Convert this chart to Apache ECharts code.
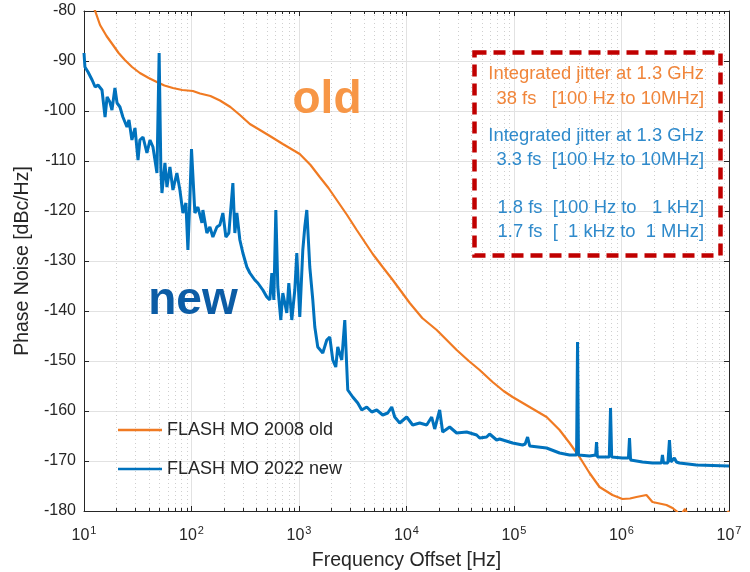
<!DOCTYPE html>
<html>
<head>
<meta charset="utf-8">
<script src="https://cdn.jsdelivr.net/npm/echarts@6/dist/echarts.min.js"></script>
<style>
html,body{margin:0;padding:0;background:#fff;}
#c{width:750px;height:572px;}
</style>
</head>
<body>
<div id="c"></div>
<script>
// ---------- data ----------
const seriesNames = ['FLASH MO 2008 old', 'FLASH MO 2022 new'];

const freqOld = [11.5, 12.7, 14.1, 16.2, 18.6, 21.0, 24.0, 28.0, 33.1, 40.0, 47.6, 56.0, 67.1, 82.0, 103, 120, 150, 184, 230, 282, 349, 433, 536, 707, 1016, 1280, 1560, 1880, 2244, 2800, 3443, 4853, 6000, 7447, 10715, 14000, 19098, 29300, 38000, 47900, 63200, 80000, 97000, 139600, 200900, 265500, 328800, 407000, 504000, 625000, 824000, 1020000, 1200000, 1377000, 1706000, 1940000, 2620000, 2980000, 3240000, 3500000, 3900000, 4200000, 5000000, 8000000, 10000000];
const dbOld = [-78, -80, -82.8, -85.0, -86.8, -88.4, -89.8, -91.2, -92.4, -93.4, -94.2, -94.9, -95.4, -95.8, -96.0, -96.5, -97.0, -97.9, -99.2, -100.8, -102.6, -103.8, -105.0, -106.6, -108.6, -110.8, -113.2, -115.4, -117.8, -120.8, -123.8, -128.6, -131.2, -133.8, -138.4, -141.4, -143.8, -147.8, -150.0, -151.8, -154.2, -156.0, -157.2, -159.2, -161.2, -163.8, -166.4, -169.2, -172.4, -175.2, -176.8, -177.6, -177.5, -177.2, -176.8, -178.2, -178.8, -179.4, -180, -181, -179.6, -181, -182, -182, -180];

const freqNew = [10, 10.2, 10.9, 11.9, 12.7, 13.5, 14.7, 15.7, 16.4, 17.4, 18.2, 19.4, 20.3, 21.6, 23.0, 25.1, 26.2, 27.9, 29.8, 31.8, 33.1, 35.4, 38.5, 41.1, 43.8, 47.7, 50, 51.9, 53.1, 56.6, 59.1, 63.0, 67.2, 73.1, 78.0, 83.2, 88.7, 92.6, 96, 100, 107.5, 114.7, 125, 127.6, 139, 148.3, 158.1, 172.2, 183.6, 195.8, 208.8, 222.6, 242.6, 253.1, 264.2, 281.8, 300.5, 327.3, 349, 388.4, 414.1, 461, 502, 535.4, 558.8, 583.3, 608.8, 635.4, 677.5, 707, 770, 804, 857, 914, 954, 1017, 1085, 1132, 1182, 1260, 1344, 1403, 1495, 1664, 1813, 1933, 2062, 2198, 2294, 2499, 2666, 2781, 2842, 3162, 3520, 3833, 4267, 4750, 5284, 6009, 6690, 7289, 7770, 8646, 10040, 11420, 13270, 15410, 17150, 18290, 20350, 21700, 25200, 29270, 36270, 44920, 47900, 55650, 59330, 68930, 73480, 97050, 120200, 127000, 133800, 140000, 145700, 200900, 265400, 328700, 381900, 390000, 398000, 407100, 504200, 575000, 585800, 597000, 611300, 770000, 790600, 810000, 1022000, 1160000, 1187000, 1215000, 1567000, 1941000, 2350000, 2404000, 2460000, 2700000, 2793000, 2880000, 2979000, 3100000, 3245000, 3459000, 4977000, 10000000];
const dbNew = [-88.4, -91.2, -92.2, -93.8, -95.2, -94.8, -95.8, -101.2, -97.2, -98.2, -99.8, -95.4, -98.4, -99.2, -101.2, -103.2, -101.8, -105.8, -103.4, -109.8, -105.8, -105.2, -108.4, -105.8, -107.2, -112.4, -88.4, -111.8, -116.4, -110.4, -115.2, -111.2, -115.8, -112.4, -115.8, -120.4, -118.4, -127.8, -119, -107.6, -120.4, -119.2, -122.4, -119.8, -124.4, -123.2, -125.2, -123.2, -122.8, -120.4, -125.2, -124.4, -114.4, -124.4, -120.4, -125.8, -128.4, -131.2, -132.4, -133.8, -134.4, -135.8, -137.2, -137.8, -132.4, -137.8, -119.8, -135.2, -141.8, -136.4, -140.4, -134.4, -141.8, -135.8, -128.4, -141.2, -127.8, -123.2, -119.8, -131.2, -137.8, -143.2, -147.2, -148.4, -145.8, -145.2, -149.8, -151.2, -147.2, -149.8, -141.8, -151.2, -155.8, -157.2, -158.4, -159.8, -159.2, -160.2, -159.8, -160.8, -160.4, -159.2, -161.2, -162.4, -161.2, -162.8, -162.4, -162.8, -161.2, -163.6, -159.8, -164.2, -163.2, -164.4, -164.2, -164.8, -165.4, -165.2, -164.6, -165.8, -165.6, -166.4, -166.8, -166.6, -165.2, -167.0, -167.2, -167.4, -168.4, -168.8, -168.8, -146.2, -168.8, -168.8, -169, -168.8, -166.2, -169.2, -169.2, -169.2, -159.4, -169.2, -169.4, -169.4, -165.4, -169.8, -170.2, -170.4, -170.4, -168.8, -170.4, -170.4, -165.8, -170.2, -170, -169.4, -170.2, -170.4, -170.8, -171];

const boxLines = [
  {text: 'Integrated jitter at 1.3 GHz', color: '#F0853A'},
  {text: '38 fs   [100 Hz to 10MHz]', color: '#F0853A'},
  {text: 'Integrated jitter at 1.3 GHz', color: '#2F8ACB'},
  {text: '3.3 fs  [100 Hz to 10MHz]', color: '#2F8ACB'},
  {text: '1.8 fs  [100 Hz to   1 kHz]', color: '#2F8ACB'},
  {text: '1.7 fs  [  1 kHz to  1 MHz]', color: '#2F8ACB'}
];
const boxLineY = [74, 99, 136, 160, 208, 232];

// minor decade ticks (2..9 x decade)
const minorFreqs = [];
for (let d = 1; d < 7; d++) for (let m = 2; m <= 9; m++) minorFreqs.push(m * Math.pow(10, d));

// ---------- chart ----------
const FONT = 'Liberation Sans, Arial, sans-serif';
const AX = '#262626';
const chart = echarts.init(document.getElementById('c'), null, {renderer: 'canvas'});

const oldData = freqOld.map((f, i) => [f, dbOld[i]]);
const newData = freqNew.map((f, i) => [f, dbNew[i]]);

const xBase = {
  type: 'log', logBase: 10, min: 10, max: 10000000, splitNumber: 6,
  axisLine: {show: true, onZero: false, lineStyle: {color: AX, width: 1}},
  axisTick: {show: true, inside: true, length: 5, lineStyle: {color: AX}},
};
const yBase = {
  type: 'value', min: -180, max: -80, interval: 10,
  axisLine: {show: true, onZero: false, lineStyle: {color: AX, width: 1}},
  axisTick: {show: true, inside: true, length: 5, lineStyle: {color: AX}},
};

const graphics = [
  {type: 'rect', left: 472, top: 50, shape: {width: 246, height: 203}, silent: true,
   style: {fill: 'none', stroke: '#C00000', lineWidth: 4.5, lineDash: [12, 7]}, z: 100},
  {type: 'text', x: 327, y: 123, silent: true, z: 100,
   style: {text: 'old', fill: '#F79646', font: 'bold 46px ' + FONT, textAlign: 'center', textVerticalAlign: 'bottom'}},
  {type: 'text', x: 193, y: 324, silent: true, z: 100,
   style: {text: 'new', fill: '#0B5CA5', font: 'bold 46px ' + FONT, textAlign: 'center', textVerticalAlign: 'bottom'}}
];
boxLines.forEach((l, i) => {
  graphics.push({type: 'text', x: 704, y: boxLineY[i], silent: true, z: 100,
    style: {text: l.text, fill: l.color, font: '18.4px ' + FONT, textAlign: 'right', textVerticalAlign: 'middle'}});
});

chart.setOption({
  animation: false,
  backgroundColor: '#fff',
  textStyle: {fontFamily: FONT},
  grid: {left: 84, right: 21, top: 11, bottom: 61, containLabel: false, outerBoundsMode: 'none'},
  legend: {
    data: seriesNames, orient: 'vertical', left: 118, top: 421, itemGap: 21,
    itemWidth: 44, itemHeight: 14, icon: 'path://M0,6 L44,6 L44,8.4 L0,8.4 Z',
    textStyle: {fontSize: 18, color: AX, fontFamily: FONT}, padding: 0
  },
  xAxis: [
    Object.assign({}, xBase, {
      position: 'bottom',
      name: 'Frequency Offset [Hz]', nameLocation: 'middle', nameGap: 40,
      nameTextStyle: {fontSize: 19.5, color: AX, fontFamily: FONT, verticalAlign: 'top'},
      splitLine: {show: true, lineStyle: {color: '#E2E2E2', width: 1}},
      axisLabel: {
        margin: 14, color: AX,
        formatter: v => '{b|10}{s|' + Math.round(Math.log10(v)) + '}',
        rich: {b: {fontSize: 16, color: AX, fontFamily: FONT, verticalAlign: 'bottom'},
               s: {fontSize: 11, color: AX, fontFamily: FONT, verticalAlign: 'bottom', padding: [0, 0, 8, 1]}}
      }
    }),
    Object.assign({}, xBase, {position: 'top', axisLabel: {show: false}, splitLine: {show: false}})
  ],
  yAxis: [
    Object.assign({}, yBase, {
      position: 'left',
      name: 'Phase Noise [dBc/Hz]', nameLocation: 'middle', nameGap: 41, nameRotate: 90,
      nameTextStyle: {fontSize: 19.5, color: AX, fontFamily: FONT},
      splitLine: {show: true, lineStyle: {color: '#E2E2E2', width: 1}},
      axisLabel: {margin: 8, fontSize: 16, color: AX, fontFamily: FONT}
    }),
    Object.assign({}, yBase, {position: 'right', axisLabel: {show: false}, splitLine: {show: false}})
  ],
  series: [
    {
      type: 'custom', name: 'minor', xAxisIndex: 0, yAxisIndex: 0, z: 1, silent: true,
      clip: false,
      data: minorFreqs.map(f => [f, -130]),
      encode: {x: 0, y: 1},
      renderItem: function (params, api) {
        const f = api.value(0);
        const t = api.coord([f, -80]);
        const b = api.coord([f, -180]);
        const x = Math.round(t[0]) + 0.5;
        return {type: 'group', children: [
          {type: 'line', shape: {x1: x, y1: t[1], x2: x, y2: b[1]}, style: {stroke: '#CFCFCF', lineWidth: 1, lineDash: [1, 3]}},
          {type: 'line', shape: {x1: x, y1: b[1], x2: x, y2: b[1] - 3}, style: {stroke: AX, lineWidth: 1}},
          {type: 'line', shape: {x1: x, y1: t[1], x2: x, y2: t[1] + 3}, style: {stroke: AX, lineWidth: 1}}
        ]};
      }
    },
    {
      type: 'line', name: seriesNames[0], data: oldData, showSymbol: false, symbol: 'none',
      lineStyle: {color: '#F07A22', width: 2.2}, itemStyle: {color: '#F07A22'}, z: 3, clip: true
    },
    {
      type: 'line', name: seriesNames[1], data: newData, showSymbol: false, symbol: 'none',
      lineStyle: {color: '#0072BD', width: 3}, itemStyle: {color: '#0072BD'}, z: 4, clip: true
    }
  ],
  graphic: graphics
});
</script>
</body>
</html>
